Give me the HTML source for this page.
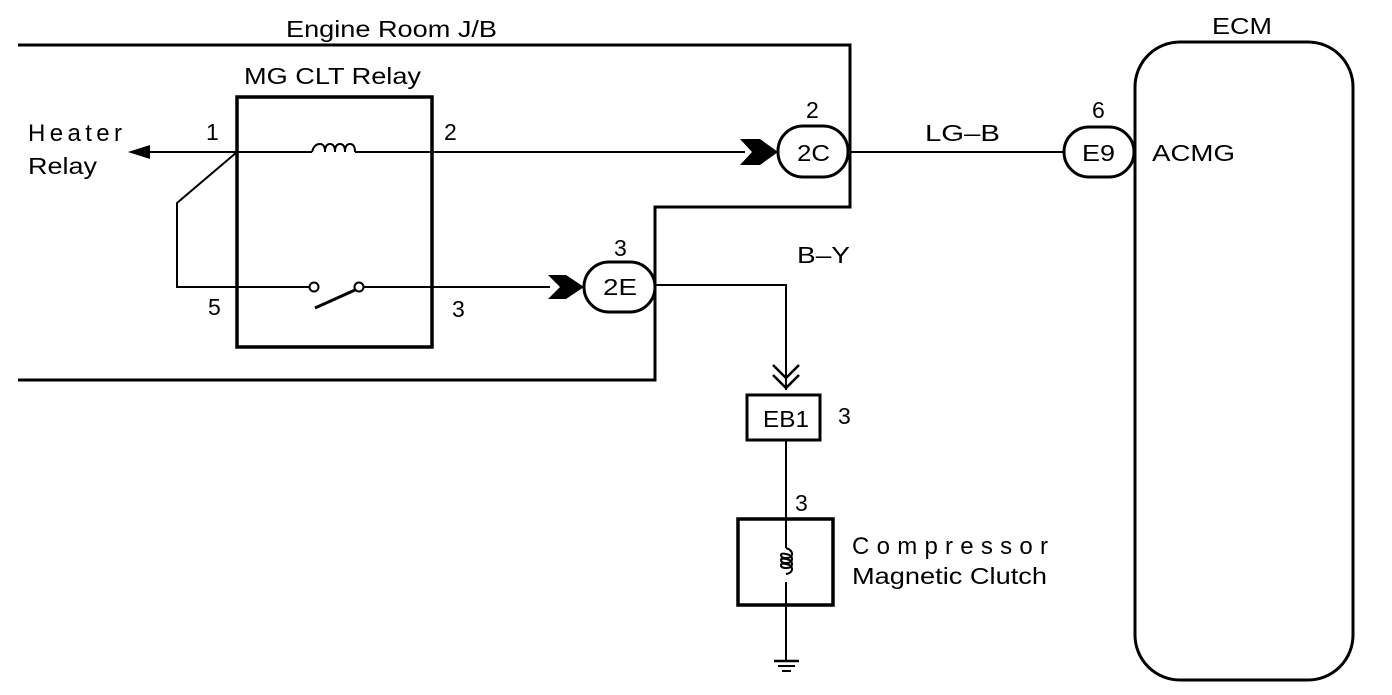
<!DOCTYPE html>
<html><head><style>
html,body{margin:0;padding:0;background:#fff;}
svg text{font-family:"Liberation Sans",sans-serif;fill:#000;}
</style></head><body>
<svg width="1392" height="690" viewBox="0 0 1392 690" xmlns="http://www.w3.org/2000/svg">
<g fill="none" stroke="#000">
<polyline points="18,45 850,45 850,207 655,207 655,380 18,380" stroke-width="3"/>
<rect x="237" y="97" width="195" height="250" stroke-width="3.5"/>
<line x1="145" y1="152" x2="312" y2="152" stroke-width="2"/>
<path d="M312,152 q2,-8 8,-8 q5,0 5,8 q0,-8 5,-8 q5,0 5,8 q0,-8 5,-8 q5,0 5,8 q0,-8 5,-8 q5,0 5,8" stroke-width="2"/>
<line x1="355" y1="152" x2="745" y2="152" stroke-width="2"/>
<polyline points="237,152 177,203 177,287 310,287" stroke-width="2"/>
<circle cx="314" cy="287" r="4.5" stroke-width="2"/>
<circle cx="359" cy="287" r="4.5" stroke-width="2"/>
<line x1="364" y1="287" x2="550" y2="287" stroke-width="2"/>
<line x1="315" y1="308" x2="355" y2="290" stroke-width="3"/>
<rect x="778" y="126" width="70" height="51" rx="25" stroke-width="3"/>
<line x1="848" y1="152" x2="1064" y2="152" stroke-width="2"/>
<rect x="1064" y="127" width="70" height="50" rx="25" stroke-width="3"/>
<rect x="1135" y="42" width="218" height="638" rx="45" stroke-width="3"/>
<rect x="584" y="262" width="71" height="50" rx="25" stroke-width="3"/>
<polyline points="655,285 786,285 786,390" stroke-width="2"/>
<polyline points="773,365 786,378 799,365" stroke-width="2.5"/>
<polyline points="773,375 786,388 799,375" stroke-width="2.5"/>
<rect x="747" y="395" width="73" height="45" stroke-width="3"/>
<line x1="786" y1="440" x2="786" y2="548" stroke-width="2"/>
<rect x="738" y="519" width="95" height="86" stroke-width="3.5"/>
<path d="M786,548 q6,2 6,6 q0,4 -6,4 q-5,0 -5,-3 q0,-2 5,-1 q6,1 6,5 q0,4 -6,4 q-5,0 -5,-3 q0,-2 5,-1 q6,1 6,5 q0,4 -6,4 q-5,0 -5,-3 q0,-2 5,-1 q6,1 6,5 q0,4 -6,5" stroke-width="2"/>
<line x1="786" y1="582" x2="786" y2="660" stroke-width="2"/>
<line x1="774" y1="661" x2="799" y2="661" stroke-width="2.5"/>
<line x1="778" y1="666" x2="795" y2="666" stroke-width="2"/>
<line x1="782" y1="671" x2="791" y2="671" stroke-width="2"/>
</g>
<polygon points="128,152 150,145 150,159" fill="#000"/>
<polygon points="740,139 760,139 778,152 760,165 740,165 752,152" fill="#000"/>
<polygon points="548,275 566,275 584,287 566,299 548,299 560,287" fill="#000"/>
<g font-size="23">
<text x="286" y="37" textLength="211" lengthAdjust="spacingAndGlyphs">Engine Room J/B</text>
<text x="244" y="84" textLength="177" lengthAdjust="spacingAndGlyphs">MG CLT Relay</text>
<text x="28" y="141" font-size="24" textLength="94" lengthAdjust="spacing">Heater</text>
<text x="28" y="174" textLength="69" lengthAdjust="spacingAndGlyphs">Relay</text>
<text x="206" y="140">1</text>
<text x="444" y="140">2</text>
<text x="208" y="315">5</text>
<text x="452" y="317">3</text>
<text x="806" y="118">2</text>
<text x="797" y="161" textLength="33" lengthAdjust="spacingAndGlyphs">2C</text>
<text x="925" y="141" textLength="75" lengthAdjust="spacingAndGlyphs">LG–B</text>
<text x="1092" y="118">6</text>
<text x="1082" y="161" textLength="33" lengthAdjust="spacingAndGlyphs">E9</text>
<text x="1152" y="161" textLength="83" lengthAdjust="spacingAndGlyphs">ACMG</text>
<text x="1212" y="34" textLength="60" lengthAdjust="spacingAndGlyphs">ECM</text>
<text x="614" y="256">3</text>
<text x="603" y="295" textLength="34" lengthAdjust="spacingAndGlyphs">2E</text>
<text x="797" y="263" textLength="53" lengthAdjust="spacingAndGlyphs">B–Y</text>
<text x="763" y="427" textLength="46" lengthAdjust="spacingAndGlyphs">EB1</text>
<text x="838" y="424">3</text>
<text x="795" y="511">3</text>
<text x="852" y="554" font-size="24" textLength="196" lengthAdjust="spacing">Compressor</text>
<text x="852" y="584" textLength="195" lengthAdjust="spacingAndGlyphs">Magnetic Clutch</text>
</g>
</svg>
</body></html>
